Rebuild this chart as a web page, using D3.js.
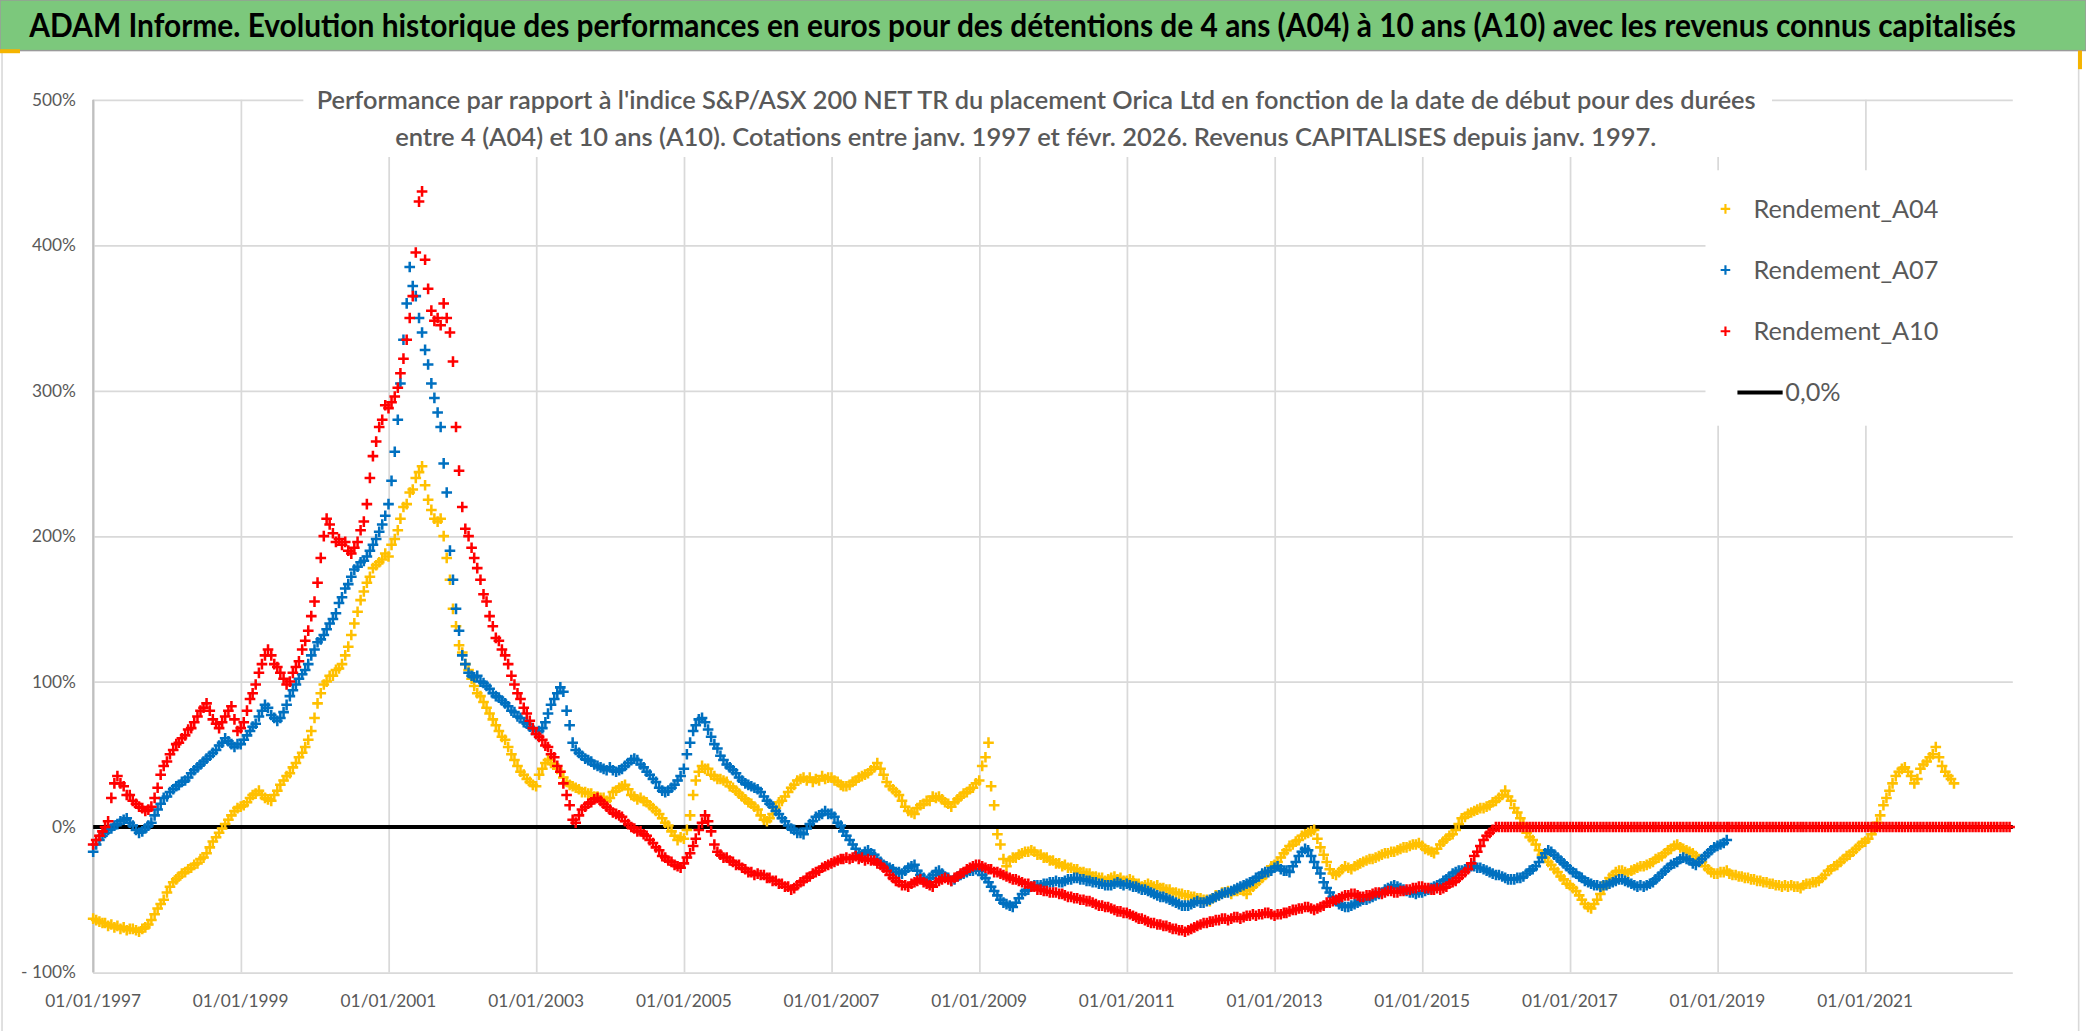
<!DOCTYPE html>
<html>
<head>
<meta charset="utf-8">
<script src="https://cdn.jsdelivr.net/npm/d3@7"></script>
<style>
  body { margin: 0; background: #fff; }
  svg { display: block; }
</style>
</head>
<body>
<div id="vis"></div>
<script>
// readings, two per month (1st and 16th), one row per year from January 1997
const A04 = [
  -63,-64,-65,-66,-66,-68,-67,-69,-68,-70,-69,-71,-70,-70,-71,-72,-70,-69,-67,-64,-60,-56,-53,-50,
  -45,-41,-38,-36,-34,-32,-31,-29,-28,-26,-25,-22,-21,-18,-14,-10,-7,-4,-1,2,5,8,11,13,
  14,15,17,20,22,23,25,22,20,19,18,22,25,29,32,35,37,41,44,48,51,55,60,66,
  75,85,92,98,100,104,104,108,109,112,118,124,132,140,148,156,162,168,172,178,180,182,184,188,
  186,194,198,204,212,220,222,230,232,240,244,248,235,225,218,212,210,212,200,185,170,150,138,125,
  120,112,108,102,97,92,90,86,82,78,74,70,66,62,60,55,50,46,42,38,36,33,31,29,
  28,36,40,44,46,44,43,40,38,34,31,29,28,27,26,24,24,23,23,21,21,20,20,18,
  20,24,25,27,28,29,26,22,21,19,20,18,17,15,13,11,9,6,3,1,-3,-6,-9,-7,
  -8,-2,8,22,32,38,42,40,40,36,35,33,33,32,31,28,27,25,23,21,19,17,16,14,
  12,8,5,4,6,9,13,17,18,21,24,27,29,32,33,34,32,34,31,33,32,35,33,34,
  34,32,31,29,28,28,29,31,32,34,35,36,37,39,41,44,40,36,31,28,26,24,22,18,
  14,11,10,9,13,15,16,18,18,21,20,21,19,17,16,14,17,19,21,23,24,26,27,30,
  32,42,48,58,28,15,-5,-12,-22,-27,-23,-21,-21,-19,-18,-17,-17,-16,-17,-19,-19,-21,-21,-23,
  -23,-25,-25,-27,-26,-28,-28,-29,-29,-31,-31,-32,-32,-34,-34,-35,-35,-37,-36,-35,-34,-36,-35,-37,
  -37,-36,-37,-39,-39,-41,-40,-39,-40,-41,-40,-42,-42,-43,-43,-45,-45,-46,-46,-47,-47,-48,-48,-49,
  -49,-50,-50,-51,-49,-47,-47,-45,-45,-44,-46,-44,-44,-43,-44,-46,-43,-41,-39,-37,-35,-33,-30,-27,
  -26,-24,-21,-18,-16,-13,-12,-10,-9,-6,-5,-4,-3,-2,-8,-14,-19,-24,-29,-32,-33,-31,-29,-27,
  -28,-29,-27,-26,-25,-24,-23,-22,-22,-21,-20,-19,-18,-18,-17,-17,-16,-15,-14,-14,-13,-12,-12,-11,
  -13,-15,-16,-17,-18,-15,-12,-10,-8,-6,-5,-2,2,6,7,9,10,11,12,13,13,14,15,17,
  18,20,22,25,21,18,13,10,6,2,-4,-7,-9,-12,-16,-19,-21,-24,-26,-29,-31,-34,-36,-39,
  -40,-42,-44,-47,-50,-53,-55,-56,-53,-50,-46,-42,-38,-35,-33,-31,-30,-30,-31,-32,-30,-29,-28,-27,
  -27,-26,-25,-24,-22,-21,-20,-18,-16,-15,-13,-12,-14,-15,-16,-17,-18,-20,-22,-24,-27,-29,-31,-32,
  -32,-31,-31,-30,-32,-33,-33,-34,-34,-35,-35,-36,-36,-37,-37,-38,-38,-39,-39,-40,-40,-41,-40,-41,
  -40,-41,-41,-42,-40,-39,-39,-38,-38,-37,-35,-33,-30,-29,-27,-26,-24,-22,-20,-19,-17,-15,-13,-11,
  -10,-8,-5,-2,3,8,15,20,25,30,35,38,40,41,38,35,30,33,40,43,45,48,50,55,
  48,42,38,35,33,30
];

const A07 = [
  -17,-12,-9,-6,-4,-2,-1,1,2,4,5,6,3,1,-2,-4,-3,-1,1,3,8,12,16,20,
  21,24,26,28,29,31,32,34,37,39,41,43,45,47,49,51,53,56,58,61,59,57,55,57,
  57,60,63,66,69,71,76,80,84,82,77,75,73,75,79,84,90,94,98,102,105,108,112,118,
  122,127,129,132,136,140,143,147,154,158,164,167,172,177,179,182,183,186,190,194,198,203,208,214,
  222,238,258,280,305,335,360,385,372,365,350,340,328,318,305,295,285,275,250,230,190,170,150,135,
  118,112,106,104,103,104,100,99,97,95,92,90,89,87,85,83,80,79,76,75,72,71,69,67,
  64,66,68,72,78,84,88,92,96,93,80,70,58,53,51,49,47,46,45,43,42,41,40,39,
  41,39,38,39,40,42,44,46,47,46,43,41,38,36,33,31,27,25,24,25,27,29,32,35,
  40,50,58,66,70,74,75,72,67,62,57,54,49,46,43,41,39,37,34,32,30,29,28,27,
  26,24,21,18,16,14,11,9,6,4,1,-1,-2,-4,-4,-5,-1,2,4,7,8,9,11,9,
  9,7,3,1,-3,-6,-9,-12,-15,-18,-19,-17,-16,-18,-19,-22,-24,-26,-27,-28,-29,-31,-31,-32,
  -30,-28,-27,-26,-30,-33,-35,-37,-35,-33,-31,-30,-32,-34,-35,-37,-36,-34,-33,-32,-31,-30,-30,-29,
  -30,-33,-35,-38,-41,-44,-47,-50,-52,-53,-54,-55,-52,-49,-46,-44,-43,-41,-40,-40,-40,-39,-39,-38,
  -38,-37,-38,-38,-37,-36,-36,-35,-35,-36,-36,-37,-37,-38,-38,-39,-39,-40,-40,-40,-39,-38,-39,-40,
  -39,-40,-41,-41,-42,-43,-43,-44,-45,-46,-47,-48,-48,-49,-50,-51,-52,-53,-54,-54,-54,-53,-52,-51,
  -52,-52,-51,-50,-49,-48,-47,-46,-45,-45,-44,-43,-42,-41,-40,-39,-38,-37,-35,-34,-32,-31,-31,-30,
  -28,-27,-29,-30,-30,-31,-27,-24,-20,-17,-15,-16,-20,-24,-28,-32,-38,-42,-45,-48,-51,-53,-54,-55,
  -55,-54,-53,-52,-51,-50,-50,-49,-48,-47,-46,-45,-43,-42,-41,-40,-41,-42,-43,-44,-45,-45,-46,-45,
  -45,-44,-43,-42,-41,-40,-39,-37,-36,-34,-32,-31,-30,-30,-29,-28,-27,-27,-28,-28,-29,-30,-31,-32,
  -33,-33,-34,-35,-36,-36,-36,-35,-35,-34,-32,-30,-29,-27,-24,-21,-18,-16,-17,-19,-21,-23,-25,-27,
  -29,-31,-32,-34,-35,-37,-38,-39,-40,-40,-41,-40,-40,-39,-38,-37,-36,-36,-37,-38,-39,-40,-41,-40,
  -41,-40,-39,-38,-36,-34,-32,-30,-28,-26,-25,-24,-22,-21,-22,-23,-25,-26,-24,-22,-20,-18,-16,-14,
  -13,-12,-11,-9
];

const A10 = [
  -12,-9,-6,-3,0,4,20,30,35,30,28,22,22,18,16,14,13,11,12,14,20,27,36,42,
  45,50,53,57,58,61,63,67,68,72,76,80,82,85,80,74,71,68,72,76,80,83,74,66,
  68,72,80,88,92,98,106,112,118,122,118,112,110,106,102,98,100,106,110,114,122,128,135,145,
  155,168,185,200,212,208,202,196,198,194,196,190,188,192,196,204,210,222,240,255,265,275,280,290,
  288,292,296,302,312,322,335,350,365,395,430,437,390,370,355,348,350,345,360,350,340,320,275,245,
  220,205,200,192,185,178,170,160,155,145,138,130,128,122,118,112,104,98,92,88,82,78,73,68,
  64,62,60,56,55,50,48,42,38,30,22,15,5,3,8,12,14,16,17,19,20,18,16,14,
  12,10,9,8,7,4,2,0,-1,-3,-3,-5,-6,-9,-11,-14,-16,-20,-21,-23,-24,-26,-27,-28,
  -25,-21,-18,-13,-8,-2,3,8,4,-3,-12,-17,-19,-21,-21,-23,-24,-26,-26,-28,-29,-31,-31,-33,
  -32,-33,-33,-35,-35,-37,-37,-39,-39,-41,-41,-43,-42,-40,-38,-37,-35,-34,-32,-31,-30,-28,-27,-26,
  -25,-24,-23,-22,-22,-21,-22,-21,-20,-22,-21,-23,-22,-23,-23,-25,-26,-28,-30,-33,-35,-37,-38,-40,
  -40,-41,-39,-38,-37,-36,-38,-39,-40,-41,-38,-37,-36,-35,-36,-37,-35,-34,-32,-31,-29,-28,-27,-26,
  -26,-27,-28,-29,-29,-31,-31,-32,-33,-34,-35,-36,-36,-37,-38,-39,-39,-41,-41,-43,-43,-44,-44,-45,
  -45,-45,-46,-46,-47,-48,-48,-49,-49,-50,-50,-51,-51,-52,-53,-54,-54,-55,-55,-56,-57,-58,-58,-59,
  -59,-60,-61,-62,-63,-63,-64,-65,-66,-66,-67,-67,-68,-68,-69,-70,-70,-71,-71,-72,-71,-70,-69,-68,
  -67,-66,-66,-65,-65,-64,-64,-63,-63,-64,-63,-62,-62,-63,-62,-61,-61,-60,-61,-60,-60,-59,-59,-60,
  -61,-60,-60,-59,-59,-58,-57,-57,-56,-56,-55,-55,-56,-57,-56,-55,-54,-52,-52,-51,-50,-49,-48,-47,
  -47,-46,-46,-47,-48,-48,-47,-47,-46,-45,-45,-46,-45,-44,-44,-45,-45,-44,-44,-43,-43,-42,-42,-41,
  -41,-42,-42,-43,-43,-42,-43,-42,-41,-39,-38,-37,-35,-33,-31,-29,-25,-20,-17,-13,-9,-6,-4,-2,
  0,0,0,0,0,0,0,0,0,0,0,0,0,0,0,0,0,0,0,0,0,0,0,0,
  0,0,0,0,0,0,0,0,0,0,0,0,0,0,0,0,0,0,0,0,0,0,0,0,
  0,0,0,0,0,0,0,0,0,0,0,0,0,0,0,0,0,0,0,0,0,0,0,0,
  0,0,0,0,0,0,0,0,0,0,0,0,0,0,0,0,0,0,0,0,0,0,0,0,
  0,0,0,0,0,0,0,0,0,0,0,0,0,0,0,0,0,0,0,0,0,0,0,0,
  0,0,0,0,0,0,0,0,0,0,0,0,0,0,0,0,0,0,0,0,0,0,0,0,
  0,0,0,0,0,0,0,0,0,0,0,0,0,0,0,0,0,0,0,0,0,0,0,0
];

const SERIES_NAMES = ["Rendement_A04", "Rendement_A07", "Rendement_A10"];
const SERIES_COLORS = ["#FFC000", "#0070C0", "#FF0000"];
const ZERO_LABEL = "0,0%";

const Y_TICKS = [500, 400, 300, 200, 100, 0, -100];
const Y_LABELS = ["500%", "400%", "300%", "200%", "100%", "0%", "- 100%"];
const X_TICKS = ["01/01/1997", "01/01/1999", "01/01/2001", "01/01/2003", "01/01/2005",
  "01/01/2007", "01/01/2009", "01/01/2011", "01/01/2013", "01/01/2015",
  "01/01/2017", "01/01/2019", "01/01/2021"];
const X_END = "01/01/2023";

const TITLE = "ADAM Informe. Evolution historique des performances en euros pour des détentions de 4 ans (A04) à 10 ans (A10) avec les revenus connus capitalisés";
const SUB_1 = "Performance par rapport à l'indice S&P/ASX 200 NET TR  du placement Orica Ltd en fonction de la date de début pour des durées";
const SUB_2 = "entre 4 (A04) et 10 ans (A10). Cotations entre janv. 1997 et févr. 2026. Revenus CAPITALISES depuis janv. 1997.";

// drawing units (scaled up to the 2086x1031 window through the viewBox)
const FRAME_WIDTH = 1568;
const FRAME_HEIGHT = 775;
const MARGINS = { left: 70, right: 55, top: 75, bottom: 44 };
const VIS_WIDTH = FRAME_WIDTH - MARGINS.left - MARGINS.right;
const VIS_HEIGHT = FRAME_HEIGHT - MARGINS.top - MARGINS.bottom;
const FONT = "Lato, 'Open Sans', sans-serif";
const GREY_TEXT = "#595959";

const parseDate = d3.timeParse("%d/%m/%Y");
const START = parseDate(X_TICKS[0]);

const FRAME = d3.select("#vis")
  .append("svg")
  .attr("width", 2086)
  .attr("height", 1031)
  .attr("viewBox", "0 0 " + FRAME_WIDTH + " " + FRAME_HEIGHT);

const X_SCALE = d3.scaleTime()
  .domain([START, parseDate(X_END)])
  .range([MARGINS.left, MARGINS.left + VIS_WIDTH]);

const Y_SCALE = d3.scaleLinear()
  .domain([-100, 500])
  .range([MARGINS.top + VIS_HEIGHT, MARGINS.top]);

// squeeze a text horizontally so it spans `width`, like the narrow font of the original
function fitText(sel, x, y, width) {
  const w = sel.node().getComputedTextLength();
  sel.attr("transform", "translate(" + x + "," + y + ") scale(" + (width / w) + ",1)");
}

// background + frame
FRAME.append("rect")
  .attr("x", 0).attr("y", 0)
  .attr("width", FRAME_WIDTH).attr("height", FRAME_HEIGHT)
  .attr("fill", "#fff");

FRAME.append("rect")
  .attr("x", 1.5).attr("y", 38)
  .attr("width", FRAME_WIDTH - 7).attr("height", FRAME_HEIGHT - 37)
  .attr("fill", "none")
  .attr("stroke", "#d9d9d9")
  .attr("stroke-width", 1.2);

// title band
FRAME.append("rect")
  .attr("x", 0).attr("y", 0)
  .attr("width", FRAME_WIDTH).attr("height", 38)
  .attr("fill", "#7CC87C")
  .attr("stroke", "#9a9a9a")
  .attr("stroke-width", 1);

FRAME.append("rect").attr("x", 0).attr("y", 37).attr("width", 15).attr("height", 3).attr("fill", "#F5B400");
FRAME.append("rect").attr("x", FRAME_WIDTH - 6).attr("y", 38).attr("width", 3).attr("height", 14).attr("fill", "#F5B400");

FRAME.append("text")
  .attr("font-family", FONT)
  .attr("font-size", 24)
  .attr("font-weight", 700)
  .attr("fill", "#000")
  .text(TITLE)
  .call(fitText, 22, 28, 1493);

// gridlines
FRAME.append("g")
  .attr("transform", "translate(" + MARGINS.left + ",0)")
  .call(d3.axisLeft(Y_SCALE).tickValues(Y_TICKS).tickSize(-VIS_WIDTH).tickFormat(""))
  .call(g => g.select(".domain").remove())
  .call(g => g.selectAll("line").attr("stroke", "#d9d9d9").attr("stroke-width", 1.3));

FRAME.append("g")
  .attr("transform", "translate(0," + (MARGINS.top + VIS_HEIGHT) + ")")
  .call(d3.axisBottom(X_SCALE).tickValues(X_TICKS.map(parseDate)).tickSize(-VIS_HEIGHT).tickFormat(""))
  .call(g => g.select(".domain").remove())
  .call(g => g.selectAll("line").attr("stroke", "#d9d9d9").attr("stroke-width", 1.3));

FRAME.append("line")
  .attr("x1", MARGINS.left).attr("x2", MARGINS.left)
  .attr("y1", MARGINS.top).attr("y2", MARGINS.top + VIS_HEIGHT)
  .attr("stroke", "#bfbfbf").attr("stroke-width", 1.5);

// axis labels
FRAME.selectAll(".ylab")
  .data(Y_TICKS)
  .enter()
  .append("text")
  .attr("class", "ylab")
  .attr("x", MARGINS.left - 13)
  .attr("y", d => Y_SCALE(d) + 4.5)
  .attr("text-anchor", "end")
  .attr("font-family", FONT)
  .attr("font-size", 13)
  .attr("fill", GREY_TEXT)
  .text((d, i) => Y_LABELS[i]);

FRAME.selectAll(".xlab")
  .data(X_TICKS)
  .enter()
  .append("text")
  .attr("class", "xlab")
  .attr("x", d => X_SCALE(parseDate(d)))
  .attr("y", MARGINS.top + VIS_HEIGHT + 26)
  .attr("text-anchor", "middle")
  .attr("font-family", FONT)
  .attr("font-size", 13)
  .attr("fill", GREY_TEXT)
  .text(d => d);

// subtitle box hides the grid behind it
FRAME.append("rect")
  .attr("x", 228).attr("y", 57)
  .attr("width", 1104).attr("height", 61)
  .attr("fill", "#fff");

FRAME.append("text")
  .attr("font-family", FONT)
  .attr("font-size", 18)
  .attr("font-weight", 600)
  .attr("fill", GREY_TEXT)
  .text(SUB_1)
  .call(fitText, 238, 82, 1082);

FRAME.append("text")
  .attr("font-family", FONT)
  .attr("font-size", 18)
  .attr("font-weight", 600)
  .attr("fill", GREY_TEXT)
  .text(SUB_2)
  .call(fitText, 297, 110, 948);

// zero line
FRAME.append("line")
  .attr("x1", X_SCALE.range()[0]).attr("x2", X_SCALE.range()[1])
  .attr("y1", Y_SCALE(0)).attr("y2", Y_SCALE(0))
  .attr("stroke", "#000")
  .attr("stroke-width", 3);

// markers, two readings a month
const CROSS = "M-4,0H4M0,-4V4";
const SERIES = [A04, A07, A10];
const readingDate = i => d3.timeDay.offset(d3.timeMonth.offset(START, Math.floor(i / 2)), (i % 2) * 15);

SERIES.forEach((values, s) => {
  FRAME.append("g")
    .selectAll("path")
    .data(values.map((v, i) => ({ date: readingDate(i), value: v })))
    .enter()
    .append("path")
    .attr("d", CROSS)
    .attr("transform", d => "translate(" + X_SCALE(d.date) + "," + Y_SCALE(d.value) + ")")
    .attr("stroke", SERIES_COLORS[s])
    .attr("stroke-width", 1.9)
    .attr("fill", "none");
});

// legend
const LEGEND = FRAME.append("g");
LEGEND.append("rect")
  .attr("x", 1282).attr("y", 128)
  .attr("width", 233).attr("height", 192)
  .attr("fill", "#fff");

SERIES_NAMES.forEach((name, i) => {
  const y = 157 + i * 46;
  LEGEND.append("path")
    .attr("d", "M-3.6,0H3.6M0,-3.6V3.6")
    .attr("transform", "translate(1297," + y + ")")
    .attr("stroke", SERIES_COLORS[i])
    .attr("stroke-width", 1.6)
    .attr("fill", "none");
  LEGEND.append("text")
    .attr("x", 1318).attr("y", y + 6.5)
    .attr("font-family", FONT)
    .attr("font-size", 19)
    .attr("fill", GREY_TEXT)
    .text(name);
});

LEGEND.append("line")
  .attr("x1", 1306).attr("x2", 1340)
  .attr("y1", 295).attr("y2", 295)
  .attr("stroke", "#000").attr("stroke-width", 3);
LEGEND.append("text")
  .attr("x", 1342).attr("y", 301.5)
  .attr("font-family", FONT)
  .attr("font-size", 19)
  .attr("fill", GREY_TEXT)
  .text(ZERO_LABEL);
</script>
</body>
</html>
